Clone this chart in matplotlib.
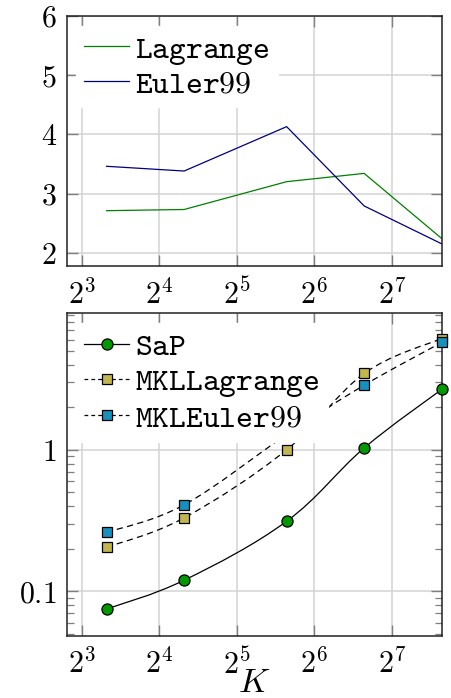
import numpy as np
import matplotlib
matplotlib.use("Agg")
import matplotlib.pyplot as plt
from matplotlib.path import Path
from matplotlib.patches import PathPatch
from matplotlib.lines import Line2D
from matplotlib.ticker import FixedLocator, LogLocator, NullFormatter

plt.rcParams['mathtext.fontset'] = 'cm'
plt.rcParams['font.family'] = ['DejaVu Serif']

# ---- data ----
K = [10, 20, 50, 100, 200]
lagrange = [2.71, 2.73, 3.20, 3.34, 2.24]
euler99 = [3.46, 3.38, 4.13, 2.79, 2.15]

sap = [0.0751, 0.120, 0.313, 1.03, 2.67]
mkl_lagrange = [0.205, 0.331, 1.00, 3.46, 6.11]
mkl_euler99 = [0.261, 0.409, 1.28, 2.86, 5.73]

xtick_exps = [3, 4, 5, 6, 7]
top_yticks = [2, 3, 4, 5, 6]

GREEN_LINE = '#008000'
NAVY = '#000080'
MK_GREEN = '#009900'
OLIVE = '#c2b64f'
BLUE = '#1790bd'
GRID = '#d3d3d3'
TICKC = '#7f7f7f'

FS_TICK = 21.5
FS_LEG = 23

fig = plt.figure(figsize=(4.52, 6.98), dpi=100)
left, width = 0.1476, 0.8296
ax1 = fig.add_axes([left, 0.6189, width, 0.3582])
ax2 = fig.add_axes([left, 0.0893, width, 0.4618])


def style_axis(ax):
    ax.set_xscale('log', base=2)
    ax.set_xlim(7.0, 200)
    ax.xaxis.set_major_locator(FixedLocator([2.0 ** e for e in xtick_exps]))
    ax.set_xticklabels([r'$2^{%d}$' % e for e in xtick_exps])
    ax.xaxis.set_minor_locator(FixedLocator([]))
    ax.grid(True, which='major', color=GRID, linewidth=1.1)
    ax.set_axisbelow(True)
    ax.tick_params(which='major', direction='in', length=8, width=1.0,
                   color=TICKC, top=True, right=True, labelsize=FS_TICK)
    ax.tick_params(axis='x', which='major', pad=9)
    ax.tick_params(axis='y', which='major', pad=7)
    ax.tick_params(which='minor', direction='in', length=5, width=0.9,
                   color=TICKC, top=True, right=True)
    for s in ax.spines.values():
        s.set_color('#222222')
        s.set_linewidth(1.1)


def smooth_line(ax, xs, ys, t=0.18, **kw):
    lx = np.log2(np.asarray(xs, float))
    ly = np.log10(np.asarray(ys, float))
    p = np.column_stack([lx, ly])
    n = len(p)
    verts = [p[0]]
    codes = [Path.MOVETO]
    for i in range(n - 1):
        pm = p[i - 1] if i > 0 else p[i]
        pn2 = p[i + 2] if i + 2 < n else p[i + 1]
        c1 = p[i] + (p[i + 1] - pm) * t
        c2 = p[i + 1] - (pn2 - p[i]) * t
        verts += [c1, c2, p[i + 1]]
        codes += [Path.CURVE4] * 3
    v = np.array(verts)
    v = np.column_stack([2.0 ** v[:, 0], 10.0 ** v[:, 1]])
    patch = PathPatch(Path(v, codes), fill=False, transform=ax.transData, **kw)
    ax.add_patch(patch)


# ---- top axes ----
style_axis(ax1)
ax1.plot(K, lagrange, color=GREEN_LINE, lw=0.9, label=r'$\mathtt{Lagrange}$', clip_on=True)
ax1.plot(K, euler99, color=NAVY, lw=0.9, label=r'$\mathtt{Euler99}$', clip_on=True)
ax1.set_ylim(1.775, 6)
ax1.set_yticks(top_yticks)
ax1.set_yticklabels([r'$%d$' % v for v in top_yticks])
leg1 = ax1.legend(loc='upper left', fontsize=FS_LEG, frameon=True, fancybox=False,
                  edgecolor='white', framealpha=1, handlelength=1.4,
                  handletextpad=0.2, labelspacing=0.05, borderpad=0.25,
                  borderaxespad=0.3)

# ---- bottom axes ----
style_axis(ax2)
ax2.set_yscale('log')
ax2.set_ylim(0.0487, 9.2)
ax2.yaxis.set_major_locator(FixedLocator([0.1, 1]))
ax2.set_yticklabels([r'$0.1$', r'$1$'])
ax2.yaxis.set_minor_locator(LogLocator(base=10, subs=np.arange(2, 10)))
ax2.yaxis.set_minor_formatter(NullFormatter())

smooth_line(ax2, K, sap, color='black', lw=0.9, zorder=2)
smooth_line(ax2, K, mkl_lagrange, color='black', lw=0.9, linestyle=(0, (5, 3.5)), zorder=2)
smooth_line(ax2, K, mkl_euler99, color='black', lw=0.9, linestyle=(0, (5, 3.5)), zorder=2)
ax2.plot(K, sap, ls='none', marker='o', ms=8, mfc=MK_GREEN, mec='black', mew=0.9,
         zorder=3, clip_on=False)
ax2.plot(K, mkl_lagrange, ls='none', marker='s', ms=7.3, mfc=OLIVE, mec='black', mew=0.9,
         zorder=3, clip_on=False)
ax2.plot(K, mkl_euler99, ls='none', marker='s', ms=7.3, mfc=BLUE, mec='black', mew=0.9,
         zorder=3, clip_on=False)

handles = [
    Line2D([], [], color='black', lw=0.9, marker='o', ms=8, mfc=MK_GREEN, mec='black', mew=0.9),
    Line2D([], [], color='black', lw=0.9, ls=(0, (3, 2.5)), marker='s', ms=7.3, mfc=OLIVE, mec='black', mew=0.9),
    Line2D([], [], color='black', lw=0.9, ls=(0, (3, 2.5)), marker='s', ms=7.3, mfc=BLUE, mec='black', mew=0.9),
]
labels = [r'$\mathtt{SaP}$', r'$\mathtt{MKLLagrange}$', r'$\mathtt{MKLEuler99}$']
leg2 = ax2.legend(handles, labels, loc='upper left', fontsize=FS_LEG, frameon=True,
                  fancybox=False, edgecolor='white', framealpha=1, handlelength=1.4,
                  handletextpad=0.2, labelspacing=0.12, borderpad=0.25,
                  borderaxespad=0.3)
leg2.set_zorder(5)

ax2.set_xlabel(r'$K$', fontsize=24.5, labelpad=-9)

fig.savefig('out.png', dpi=100)
